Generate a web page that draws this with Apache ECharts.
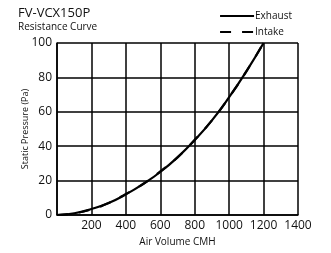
<!DOCTYPE html>
<html>
<head>
<meta charset="utf-8">
<script src="https://cdn.jsdelivr.net/npm/echarts@6/dist/echarts.min.js"></script>
<style>
html, body { margin: 0; padding: 0; background: #fff; }
#chart { width: 331px; height: 253px; }
</style>
</head>
<body>
<div id="chart"></div>
<script>
var airVolume = [0, 100, 200, 300, 400, 500, 600, 700, 800, 900, 1000, 1100, 1200];
var exhaust = [0, 1, 3.5, 7, 12, 18, 25, 33.5, 43.5, 55, 68.5, 83.5, 100];
var intake = [0, 1, 3.3, 7, 12.2, 18, 25.3, 33.5, 43.7, 55, 68.5, 83.5, 100];

var chartDom = document.getElementById('chart');
var myChart = echarts.init(chartDom);
var option;

function pairs(ys) {
    return airVolume.map(function (x, i) { return [x, ys[i]]; });
}

option = {
    animation: false,
    textStyle: { fontFamily: 'Open Sans' },
    title: [
        {
            text: 'FV-VCX150P',
            left: 13, top: 2,
            textStyle: { fontSize: 13, fontWeight: 'normal', color: '#111', fontFamily: 'Open Sans' }
        },
        {
            text: 'Resistance Curve',
            left: 13, top: 17,
            textStyle: { fontSize: 10, fontWeight: 'normal', color: '#111', fontFamily: 'Open Sans' }
        }
    ],
    legend: {
        orient: 'vertical',
        right: 34,
        top: 6,
        itemWidth: 34,
        itemHeight: 10,
        itemGap: 6,
        itemStyle: { opacity: 0 },
        textStyle: { fontSize: 10, color: '#111', padding: [0, 0, 0, -4] },
        data: ['Exhaust', 'Intake']
    },
    grid: { left: 57, right: 33, top: 43, bottom: 38 },
    xAxis: {
        type: 'value',
        min: 0, max: 1400, interval: 200,
        name: 'Air Volume CMH',
        nameLocation: 'middle',
        nameGap: 21,
        nameTextStyle: { fontSize: 10, color: '#111' },
        axisLine: { lineStyle: { color: '#000', width: 1.5 } },
        axisTick: { show: false },
        axisLabel: {
            fontSize: 12, color: '#111', margin: 5,
            formatter: function (v) { return v === 0 ? '' : v; }
        },
        splitLine: { show: true, lineStyle: { color: '#000', width: 1.5 } }
    },
    yAxis: {
        type: 'value',
        min: 0, max: 100, interval: 20,
        name: 'Static Pressure (Pa)',
        nameLocation: 'middle',
        nameGap: 27,
        nameMoveOverlap: false,
        nameTextStyle: { fontSize: 9, color: '#111' },
        axisLine: { show: true, lineStyle: { color: '#000', width: 1.5 } },
        axisTick: { show: false },
        axisLabel: { fontSize: 12, color: '#111', margin: 5 },
        splitLine: { show: true, lineStyle: { color: '#000', width: 1.5 } }
    },
    series: [
        {
            name: 'Exhaust',
            type: 'line',
            smooth: true,
            symbol: 'none',
            data: pairs(exhaust),
            lineStyle: { color: '#000', width: 2.2 }
        },
        {
            name: 'Intake',
            type: 'line',
            smooth: true,
            symbol: 'none',
            data: pairs(intake),
            lineStyle: { color: '#000', width: 2.2, type: [11, 11] }
        }
    ]
};

option && myChart.setOption(option);
new ResizeObserver(() => myChart.resize()).observe(chartDom);
</script>
</body>
</html>
